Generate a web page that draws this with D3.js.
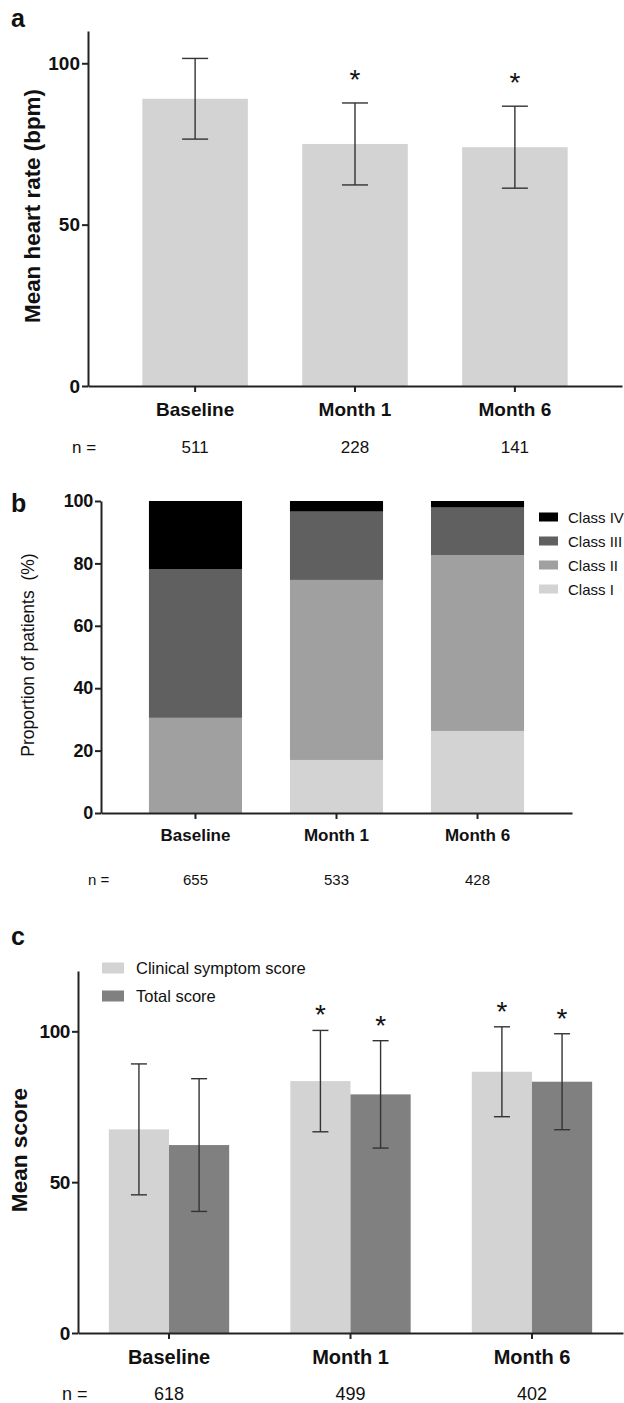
<!DOCTYPE html>
<html>
<head>
<meta charset="utf-8">
<script src="https://cdn.jsdelivr.net/npm/d3@7"></script>
<style>
  body { margin: 0; background: #fff; }
  text { font-family: "Liberation Sans", Arial, sans-serif; fill: #111; }
  .axis path, .axis line { stroke: #222; stroke-width: 2; }
  .axis text { font-weight: bold; fill: #111; }
</style>
</head>
<body>
<div class="container"></div>
<script>
// data
var categories = ["Baseline", "Month 1", "Month 6"];

// panel a
var heartRate = [89, 75, 74];
var heartRateSD = [12.5, 12.7, 12.7];
var heartRateStar = [false, true, true];
var heartRateN = [511, 228, 141];

// panel b
var classes = ["Class I", "Class II", "Class III", "Class IV"];
var classI = [0, 17.0, 26.3];
var classII = [30.5, 57.7, 56.3];
var classIII = [47.7, 21.9, 15.3];
var classIV = [21.8, 3.4, 2.1];
var classN = [655, 533, 428];

// panel c
var scoreSeries = ["Clinical symptom score", "Total score"];
var clinicalScore = [67.5, 83.5, 86.6];
var clinicalSD = [21.7, 16.8, 14.9];
var totalScore = [62.3, 79.1, 83.3];
var totalSD = [22.0, 17.8, 15.9];
var scoreStar = [false, true, true];
var scoreN = [618, 499, 402];

var svg = d3.select(".container").append("svg")
  .attr("width", 624).attr("height", 1403);

function panelLetter(t, x, y) {
  svg.append("text").attr("x", x).attr("y", y)
    .style("font-size", "25px").style("font-weight", "bold").text(t);
}

function errorBar(g, cx, y0, y1, cap) {
  g.append("line").attr("x1", cx).attr("x2", cx).attr("y1", y0).attr("y2", y1);
  g.append("line").attr("x1", cx - cap/2).attr("x2", cx + cap/2).attr("y1", y0).attr("y2", y0);
  g.append("line").attr("x1", cx - cap/2).attr("x2", cx + cap/2).attr("y1", y1).attr("y2", y1);
}

function star(x, y) {
  svg.append("text").attr("x", x).attr("y", y)
    .attr("text-anchor", "middle").style("font-size", "28px").text("*");
}

function nRow(xs, values, y, nx, size) {
  svg.append("text").attr("x", nx).attr("y", y).style("font-size", size + "px").text("n =");
  values.forEach(function(v, i) {
    svg.append("text").attr("x", xs(i)).attr("y", y).attr("text-anchor", "middle")
      .style("font-size", size + "px").text(v);
  });
}

// ---------- panel a ----------
(function() {
  panelLetter("a", 11, 27);
  var x = d3.scaleBand().domain(categories).range([88, 622]).paddingInner(0.34).paddingOuter(0.34);
  var y = d3.scaleLinear().domain([0, 110]).range([386, 31]);

  svg.selectAll("rect.hr").data(heartRate).enter().append("rect")
    .attr("class", "hr")
    .attr("x", function(d, i) { return x(categories[i]); })
    .attr("width", x.bandwidth())
    .attr("y", function(d) { return y(d); })
    .attr("height", function(d) { return y(0) - y(d); })
    .style("fill", "#d3d3d3");

  var eb = svg.append("g").style("stroke", "#333").style("stroke-width", 1.4);
  heartRate.forEach(function(d, i) {
    var cx = x(categories[i]) + x.bandwidth()/2;
    errorBar(eb, cx, y(d + heartRateSD[i]), y(d - heartRateSD[i]), 26);
    if (heartRateStar[i]) star(cx, y(d + heartRateSD[i]) - 14);
  });

  svg.append("g").attr("class", "axis").attr("transform", "translate(88,0)")
    .call(d3.axisLeft(y).tickValues([0, 50, 100]).tickSize(6).tickSizeOuter(0).tickPadding(2))
    .selectAll("text").style("font-size", "19px");
  svg.append("g").attr("class", "axis").attr("transform", "translate(0,386)")
    .call(d3.axisBottom(x).tickSize(6).tickSizeOuter(0).tickPadding(6))
    .selectAll("text").style("font-size", "19px").attr("dy", "0.95em");

  svg.append("text").attr("transform", "translate(40,206) rotate(-90)")
    .attr("text-anchor", "middle").style("font-size", "22.4px").style("font-weight", "bold")
    .text("Mean heart rate (bpm)");

  nRow(function(i) { return x(categories[i]) + x.bandwidth()/2; }, heartRateN, 453, 72, 17);
})();

// ---------- panel b ----------
(function() {
  panelLetter("b", 11, 512);
  var x = d3.scaleBand().domain(categories).range([101, 572]).paddingInner(0.34).paddingOuter(0.34);
  var y = d3.scaleLinear().domain([0, 100]).range([813, 501]);
  var colors = d3.scaleOrdinal().domain(classes).range(["#d3d3d3", "#a0a0a0", "#606060", "#000000"]);

  var rows = categories.map(function(c, i) {
    return { cat: c, "Class I": classI[i], "Class II": classII[i], "Class III": classIII[i], "Class IV": classIV[i] };
  });
  var stacked = d3.stack().keys(classes)(rows);

  svg.append("g").selectAll("g").data(stacked).enter().append("g")
    .style("fill", function(d) { return colors(d.key); })
    .selectAll("rect").data(function(d) { return d; }).enter().append("rect")
    .attr("x", function(d) { return x(d.data.cat); })
    .attr("width", x.bandwidth())
    .attr("y", function(d) { return y(d[1]); })
    .attr("height", function(d) { return y(d[0]) - y(d[1]); });

  svg.append("g").attr("class", "axis").attr("transform", "translate(101,0)")
    .call(d3.axisLeft(y).tickValues([0, 20, 40, 60, 80, 100]).tickSize(6).tickSizeOuter(0).tickPadding(2))
    .selectAll("text").style("font-size", "18px").style("letter-spacing", "-0.3px");
  svg.append("g").attr("class", "axis").attr("transform", "translate(0,813)")
    .call(d3.axisBottom(x).tickSize(6).tickSizeOuter(0).tickPadding(6))
    .selectAll("text").style("font-size", "17px").attr("dy", "0.95em");

  svg.append("text").attr("transform", "translate(34,655) rotate(-90)")
    .attr("text-anchor", "middle").style("font-size", "17.5px").style("white-space", "pre")
    .text("Proportion of patients  (%)");

  var leg = svg.append("g").selectAll("g").data(classes.slice().reverse()).enter().append("g")
    .attr("transform", function(d, i) { return "translate(539," + (517 + i * 24) + ")"; });
  leg.append("rect").attr("y", -4.5).attr("width", 19).attr("height", 9)
    .style("fill", function(d) { return colors(d); });
  leg.append("text").attr("x", 29).attr("y", 5.5).style("font-size", "15px").text(function(d) { return d; });

  nRow(function(i) { return x(categories[i]) + x.bandwidth()/2; }, classN, 885, 88, 15);
})();

// ---------- panel c ----------
(function() {
  panelLetter("c", 11, 945);
  var x = d3.scaleBand().domain(categories).range([78, 623]).paddingInner(0.337).paddingOuter(0.17);
  var xs = d3.scaleBand().domain(scoreSeries).range([0, x.bandwidth()]);
  var y = d3.scaleLinear().domain([0, 120]).range([1333, 971]);
  var colors = d3.scaleOrdinal().domain(scoreSeries).range(["#d3d3d3", "#808080"]);

  var series = [
    { key: scoreSeries[0], values: clinicalScore, sd: clinicalSD },
    { key: scoreSeries[1], values: totalScore, sd: totalSD }
  ];

  var bars = svg.append("g");
  var eb = svg.append("g").style("stroke", "#333").style("stroke-width", 1.4);
  series.forEach(function(s) {
    s.values.forEach(function(d, i) {
      var bx = x(categories[i]) + xs(s.key);
      bars.append("rect").attr("x", bx).attr("width", xs.bandwidth())
        .attr("y", y(d)).attr("height", y(0) - y(d)).style("fill", colors(s.key));
      var cx = bx + xs.bandwidth()/2;
      errorBar(eb, cx, y(d + s.sd[i]), y(d - s.sd[i]), 16);
      if (scoreStar[i]) star(cx, y(d + s.sd[i]) - 6);
    });
  });

  svg.append("g").attr("class", "axis").attr("transform", "translate(78,0)")
    .call(d3.axisLeft(y).tickValues([0, 50, 100]).tickSize(6).tickSizeOuter(0).tickPadding(2))
    .selectAll("text").style("font-size", "19px").style("letter-spacing", "-0.4px");
  svg.append("g").attr("class", "axis").attr("transform", "translate(0,1333)")
    .call(d3.axisBottom(x).tickSize(6).tickSizeOuter(0).tickPadding(6))
    .selectAll("text").style("font-size", "20px").attr("dy", "0.95em");

  svg.append("text").attr("transform", "translate(27,1150) rotate(-90)")
    .attr("text-anchor", "middle").style("font-size", "22.6px").style("font-weight", "bold")
    .text("Mean score");

  var leg = svg.append("g").selectAll("g").data(scoreSeries).enter().append("g")
    .attr("transform", function(d, i) { return "translate(102," + (968 + i * 28) + ")"; });
  leg.append("rect").attr("y", -5.5).attr("width", 22).attr("height", 11)
    .style("fill", function(d) { return colors(d); });
  leg.append("text").attr("x", 34).attr("y", 6).style("font-size", "16.5px").text(function(d) { return d; });

  nRow(function(i) { return x(categories[i]) + x.bandwidth()/2; }, scoreN, 1400, 62, 18);
})();
</script>
</body>
</html>
